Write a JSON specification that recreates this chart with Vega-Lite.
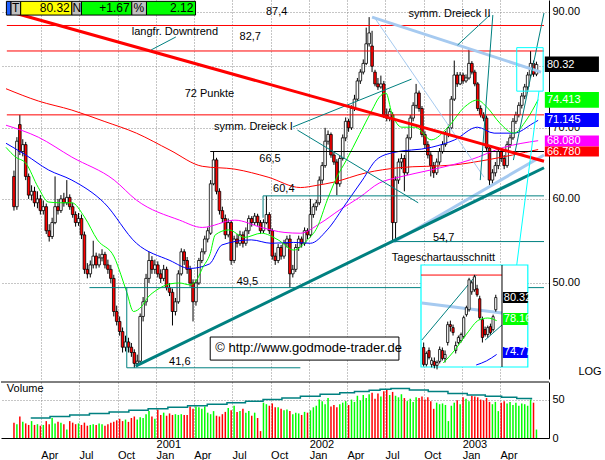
{
"$schema":"https://vega.github.io/schema/vega-lite/v6.json",
"padding":0,
"spacing":2,
"background":"white",
"config":{"view":{"stroke":null},"font":"Liberation Sans","text":{"font":"Liberation Sans","fontSize":11},"axis":{"labelFont":"Liberation Sans","labelFontSize":11,"labelColor":"#000000"}},
"datasets":{
"w":[
{"d":"2000-01-28","o":63,"h":63.8,"l":58.5,"c":59,"v":20},
{"d":"2000-02-04","o":59,"h":68.6,"l":58.6,"c":68,"v":18},
{"d":"2000-02-11","o":70.5,"h":72,"l":66,"c":66.5,"v":28},
{"d":"2000-02-18","o":66.5,"h":68.3,"l":65.8,"c":67.5,"v":21},
{"d":"2000-02-25","o":67.5,"h":67.9,"l":62.5,"c":63,"v":19},
{"d":"2000-03-03","o":63,"h":63.4,"l":60,"c":60.5,"v":17},
{"d":"2000-03-10","o":60.5,"h":61.8,"l":59.8,"c":61,"v":22},
{"d":"2000-03-17","o":61,"h":61.6,"l":59,"c":59.5,"v":17},
{"d":"2000-03-24","o":59.5,"h":61,"l":58.8,"c":60,"v":18},
{"d":"2000-03-31","o":60,"h":60.5,"l":58,"c":58.5,"v":16},
{"d":"2000-04-07","o":58.5,"h":59.8,"l":58,"c":59,"v":17},
{"d":"2000-04-14","o":59,"h":59.4,"l":55.6,"c":56,"v":22},
{"d":"2000-04-21","o":56,"h":56.8,"l":54.7,"c":55.3,"v":18},
{"d":"2000-04-28","o":55.3,"h":57.6,"l":55,"c":57,"v":26},
{"d":"2000-05-05","o":57,"h":63,"l":56.8,"c":59,"v":19},
{"d":"2000-05-12","o":59,"h":60,"l":58,"c":58.5,"v":21},
{"d":"2000-05-19","o":58.5,"h":60.5,"l":58.2,"c":60,"v":20},
{"d":"2000-05-26","o":60,"h":60.8,"l":59,"c":59.5,"v":18},
{"d":"2000-06-02","o":59.5,"h":62.5,"l":59.2,"c":60.2,"v":11},
{"d":"2000-06-09","o":60.2,"h":60.6,"l":58.6,"c":59,"v":22},
{"d":"2000-06-16","o":59,"h":59.5,"l":57.6,"c":58,"v":20},
{"d":"2000-06-23","o":58,"h":58.4,"l":56.5,"c":57,"v":18},
{"d":"2000-06-30","o":57,"h":58.2,"l":56.6,"c":57.5,"v":19},
{"d":"2000-07-07","o":57.5,"h":58,"l":55,"c":55.5,"v":17},
{"d":"2000-07-14","o":55.5,"h":55.9,"l":51,"c":51.5,"v":20},
{"d":"2000-07-21","o":51.5,"h":52.2,"l":50.5,"c":51,"v":16},
{"d":"2000-07-28","o":51,"h":52.5,"l":50.6,"c":52,"v":17},
{"d":"2000-08-04","o":52,"h":54.8,"l":51.6,"c":53,"v":18},
{"d":"2000-08-11","o":53,"h":53.4,"l":51.6,"c":52,"v":17},
{"d":"2000-08-18","o":52,"h":53.3,"l":51.7,"c":52.8,"v":19},
{"d":"2000-08-25","o":52.8,"h":53.8,"l":52.4,"c":53.2,"v":18},
{"d":"2000-09-01","o":53.2,"h":53.5,"l":51.6,"c":52,"v":16},
{"d":"2000-09-08","o":52,"h":52.6,"l":51,"c":51.5,"v":18},
{"d":"2000-09-15","o":51.5,"h":52,"l":50,"c":50.5,"v":20},
{"d":"2000-09-22","o":50.5,"h":50.9,"l":46.5,"c":47,"v":21},
{"d":"2000-09-29","o":47,"h":47.6,"l":45.6,"c":46,"v":23},
{"d":"2000-10-06","o":46,"h":46.5,"l":44.6,"c":45,"v":25},
{"d":"2000-10-13","o":45,"h":45.4,"l":43,"c":43.5,"v":22},
{"d":"2000-10-20","o":43.5,"h":44.6,"l":43.1,"c":44,"v":24},
{"d":"2000-10-27","o":44,"h":44.4,"l":43,"c":43.5,"v":21},
{"d":"2000-11-03","o":43.5,"h":43.9,"l":42.6,"c":43,"v":26},
{"d":"2000-11-10","o":43,"h":43.3,"l":41.6,"c":42,"v":28},
{"d":"2000-11-17","o":42,"h":42.8,"l":41.7,"c":42.2,"v":24},
{"d":"2000-11-24","o":42.2,"h":46.8,"l":42,"c":46.5,"v":27},
{"d":"2000-12-01","o":46.5,"h":48.5,"l":46,"c":48,"v":26},
{"d":"2000-12-08","o":48,"h":51,"l":47.6,"c":50.5,"v":31},
{"d":"2000-12-15","o":50.5,"h":53.5,"l":50,"c":52.5,"v":35},
{"d":"2000-12-22","o":52.5,"h":53,"l":51,"c":51.5,"v":28},
{"d":"2000-12-29","o":51.5,"h":52.6,"l":51,"c":52,"v":25},
{"d":"2001-01-05","o":52,"h":52.4,"l":50.6,"c":51,"v":37},
{"d":"2001-01-12","o":51,"h":51.5,"l":50,"c":50.5,"v":30},
{"d":"2001-01-19","o":50.5,"h":52,"l":50.2,"c":51.5,"v":33},
{"d":"2001-01-26","o":51.5,"h":51.8,"l":49.2,"c":49.5,"v":29},
{"d":"2001-02-02","o":49.5,"h":50,"l":48.6,"c":49,"v":32},
{"d":"2001-02-09","o":49,"h":49.4,"l":45.6,"c":47,"v":30},
{"d":"2001-02-16","o":47,"h":48.4,"l":46.6,"c":48,"v":31},
{"d":"2001-02-23","o":48,"h":51.4,"l":47.8,"c":51,"v":30},
{"d":"2001-03-02","o":51,"h":53.9,"l":50.8,"c":53.5,"v":31},
{"d":"2001-03-09","o":53.5,"h":53.8,"l":52,"c":52.5,"v":30},
{"d":"2001-03-16","o":52.5,"h":52.9,"l":51,"c":51.5,"v":30},
{"d":"2001-03-23","o":51.5,"h":51.9,"l":49.6,"c":50,"v":41},
{"d":"2001-03-30","o":50,"h":50.4,"l":46,"c":48,"v":38},
{"d":"2001-04-06","o":48,"h":50.4,"l":47.6,"c":50,"v":41},
{"d":"2001-04-13","o":50,"h":52.8,"l":49.8,"c":52.5,"v":40},
{"d":"2001-04-20","o":52.5,"h":53.9,"l":52.2,"c":53.5,"v":38},
{"d":"2001-04-27","o":53.5,"h":55.4,"l":53.2,"c":55,"v":41},
{"d":"2001-05-04","o":55,"h":56.4,"l":54.6,"c":56,"v":33},
{"d":"2001-05-11","o":55.7,"h":62.5,"l":55.5,"c":62,"v":31},
{"d":"2001-05-18","o":62,"h":66.5,"l":61.8,"c":65.3,"v":35},
{"d":"2001-05-25","o":65.3,"h":65.6,"l":60.6,"c":61,"v":29},
{"d":"2001-06-01","o":61,"h":61.4,"l":58,"c":58.5,"v":28},
{"d":"2001-06-08","o":58.5,"h":59,"l":57,"c":57.5,"v":31},
{"d":"2001-06-15","o":57.5,"h":58,"l":55,"c":55.5,"v":34},
{"d":"2001-06-22","o":55.5,"h":57.5,"l":55.2,"c":57,"v":39},
{"d":"2001-06-29","o":57,"h":57.3,"l":52,"c":52.5,"v":36},
{"d":"2001-07-06","o":52.5,"h":55.4,"l":52.2,"c":55,"v":42},
{"d":"2001-07-13","o":55,"h":55.6,"l":54,"c":54.5,"v":34},
{"d":"2001-07-20","o":54.5,"h":56,"l":54.2,"c":55.5,"v":35},
{"d":"2001-07-27","o":55.5,"h":55.9,"l":54,"c":54.5,"v":38},
{"d":"2001-08-03","o":54.5,"h":56.4,"l":54.2,"c":56,"v":33},
{"d":"2001-08-10","o":56,"h":57.9,"l":55.6,"c":57.5,"v":35},
{"d":"2001-08-17","o":57.5,"h":57.8,"l":56.5,"c":57,"v":29},
{"d":"2001-08-24","o":57,"h":58.2,"l":56.7,"c":57.8,"v":33},
{"d":"2001-08-31","o":57.8,"h":58.1,"l":56.6,"c":57,"v":26},
{"d":"2001-09-07","o":57,"h":57.3,"l":55.6,"c":56,"v":9},
{"d":"2001-09-14","o":56,"h":57.4,"l":55.7,"c":57,"v":46},
{"d":"2001-09-21","o":57,"h":60.4,"l":56.8,"c":58,"v":44},
{"d":"2001-09-28","o":58,"h":58.3,"l":55.6,"c":56,"v":42},
{"d":"2001-10-05","o":56,"h":56.3,"l":52.6,"c":53,"v":45},
{"d":"2001-10-12","o":53,"h":53.4,"l":52,"c":52.5,"v":40},
{"d":"2001-10-19","o":52.5,"h":54.4,"l":52.2,"c":54,"v":40},
{"d":"2001-10-26","o":54,"h":54.3,"l":52.6,"c":53,"v":38},
{"d":"2001-11-02","o":53,"h":54.9,"l":52.7,"c":54.5,"v":36},
{"d":"2001-11-09","o":54.5,"h":55.4,"l":54,"c":55,"v":37},
{"d":"2001-11-16","o":55,"h":55.5,"l":49.5,"c":51,"v":35},
{"d":"2001-11-23","o":51,"h":52,"l":50.6,"c":51.5,"v":31},
{"d":"2001-11-30","o":51.5,"h":54.4,"l":51.2,"c":54,"v":33},
{"d":"2001-12-07","o":54,"h":55.4,"l":53.6,"c":55,"v":32},
{"d":"2001-12-14","o":55,"h":55.3,"l":54,"c":54.5,"v":30},
{"d":"2001-12-21","o":54.5,"h":56.4,"l":54.2,"c":56,"v":34},
{"d":"2001-12-28","o":56,"h":56.3,"l":55,"c":55.5,"v":33},
{"d":"2002-01-04","o":55.5,"h":60,"l":55.2,"c":58,"v":36},
{"d":"2002-01-11","o":58,"h":59.4,"l":57.6,"c":59,"v":40},
{"d":"2002-01-18","o":59,"h":59.9,"l":58.5,"c":59.5,"v":42},
{"d":"2002-01-25","o":59.5,"h":63,"l":59.2,"c":62.5,"v":50},
{"d":"2002-02-01","o":62.5,"h":65,"l":62,"c":64.5,"v":48},
{"d":"2002-02-08","o":64.5,"h":70,"l":64.2,"c":68,"v":44},
{"d":"2002-02-15","o":68,"h":69.6,"l":67.5,"c":69,"v":52},
{"d":"2002-02-22","o":69,"h":69.3,"l":65.6,"c":66,"v":41},
{"d":"2002-03-01","o":66,"h":66.4,"l":64.6,"c":65,"v":43},
{"d":"2002-03-08","o":65,"h":65.4,"l":60.5,"c":62,"v":40},
{"d":"2002-03-15","o":62,"h":65.9,"l":61.6,"c":65.5,"v":44},
{"d":"2002-03-22","o":65.5,"h":69,"l":65.2,"c":68.5,"v":46},
{"d":"2002-03-29","o":68.5,"h":71.6,"l":68,"c":71,"v":48},
{"d":"2002-04-05","o":71,"h":71.4,"l":69.4,"c":70,"v":43},
{"d":"2002-04-12","o":70,"h":73.5,"l":69.7,"c":73,"v":50},
{"d":"2002-04-19","o":73,"h":75.2,"l":72.6,"c":74.5,"v":47},
{"d":"2002-04-26","o":74.5,"h":78,"l":74.2,"c":77.5,"v":55},
{"d":"2002-05-03","o":77.5,"h":79.5,"l":77,"c":79,"v":49},
{"d":"2002-05-10","o":79,"h":81.2,"l":78.6,"c":80.5,"v":56},
{"d":"2002-05-17","o":80.5,"h":87,"l":80.2,"c":84,"v":52},
{"d":"2002-05-24","o":84,"h":89,"l":83.5,"c":86,"v":57},
{"d":"2002-05-31","o":83.6,"h":86.4,"l":79,"c":80,"v":59},
{"d":"2002-06-07","o":79,"h":79.4,"l":76.6,"c":77,"v":51},
{"d":"2002-06-14","o":77,"h":78,"l":76,"c":76.5,"v":58},
{"d":"2002-06-21","o":76.5,"h":78.4,"l":76.2,"c":77,"v":54},
{"d":"2002-06-28","o":77,"h":77.5,"l":71.5,"c":72,"v":61},
{"d":"2002-07-05","o":72,"h":73,"l":71,"c":71.5,"v":63},
{"d":"2002-07-12","o":71.5,"h":73,"l":71,"c":72.5,"v":56},
{"d":"2002-07-19","o":72,"h":72.4,"l":54.7,"c":57,"v":60},
{"d":"2002-07-26","o":57,"h":63,"l":54.8,"c":62.5,"v":55},
{"d":"2002-08-02","o":62.5,"h":65.5,"l":62,"c":65,"v":53},
{"d":"2002-08-09","o":65,"h":66.2,"l":64,"c":65.5,"v":57},
{"d":"2002-08-16","o":65.5,"h":66,"l":61,"c":63.5,"v":52},
{"d":"2002-08-23","o":63.5,"h":69,"l":63.2,"c":68.5,"v":48},
{"d":"2002-08-30","o":68.5,"h":72,"l":68.2,"c":71.5,"v":51},
{"d":"2002-09-06","o":71.5,"h":74,"l":71,"c":73.5,"v":47},
{"d":"2002-09-13","o":73.5,"h":77,"l":73,"c":75.5,"v":53},
{"d":"2002-09-20","o":75.5,"h":75.9,"l":72.5,"c":73,"v":52},
{"d":"2002-09-27","o":73,"h":73.4,"l":68.6,"c":69,"v":54},
{"d":"2002-10-04","o":69,"h":69.5,"l":67,"c":67.5,"v":50},
{"d":"2002-10-11","o":67.5,"h":68,"l":65.5,"c":66,"v":53},
{"d":"2002-10-18","o":66,"h":66.4,"l":63,"c":64.5,"v":48},
{"d":"2002-10-25","o":64.5,"h":65,"l":62.8,"c":63.5,"v":38},
{"d":"2002-11-01","o":63.5,"h":65.5,"l":63.2,"c":65,"v":46},
{"d":"2002-11-08","o":65,"h":67,"l":64.6,"c":66.5,"v":44},
{"d":"2002-11-15","o":66.5,"h":68,"l":66.2,"c":67.5,"v":45},
{"d":"2002-11-22","o":67.5,"h":69.5,"l":67.2,"c":69,"v":43},
{"d":"2002-11-29","o":69,"h":70.5,"l":68.6,"c":70,"v":22},
{"d":"2002-12-06","o":70,"h":75,"l":69.8,"c":74.5,"v":42},
{"d":"2002-12-13","o":74.5,"h":81,"l":74.2,"c":78.5,"v":46},
{"d":"2002-12-20","o":78.5,"h":79,"l":76.5,"c":77,"v":49},
{"d":"2002-12-27","o":77,"h":79,"l":76.8,"c":78.5,"v":44},
{"d":"2003-01-03","o":78.5,"h":78.9,"l":77,"c":77.5,"v":53},
{"d":"2003-01-10","o":77.5,"h":78.6,"l":77.2,"c":78,"v":51},
{"d":"2003-01-17","o":78,"h":83,"l":77.7,"c":80.5,"v":48},
{"d":"2003-01-24","o":80.5,"h":80.9,"l":78.6,"c":79,"v":55},
{"d":"2003-01-31","o":79,"h":79.4,"l":76.6,"c":77,"v":54},
{"d":"2003-02-07","o":77,"h":77.3,"l":72.6,"c":73,"v":53},
{"d":"2003-02-14","o":73,"h":73.5,"l":71.6,"c":72,"v":50},
{"d":"2003-02-21","o":72,"h":72.4,"l":71,"c":71.5,"v":49},
{"d":"2003-02-28","o":71.5,"h":71.9,"l":66.6,"c":67,"v":52},
{"d":"2003-03-07","o":67,"h":67.4,"l":61.5,"c":62.5,"v":47},
{"d":"2003-03-14","o":62.5,"h":64,"l":62,"c":63.5,"v":44},
{"d":"2003-03-21","o":63.5,"h":65,"l":63,"c":64.5,"v":47},
{"d":"2003-03-28","o":64.5,"h":67,"l":64,"c":66.5,"v":35},
{"d":"2003-04-04","o":66.5,"h":66.9,"l":65,"c":65.5,"v":46},
{"d":"2003-04-11","o":65.5,"h":66,"l":64,"c":64.5,"v":48},
{"d":"2003-04-18","o":64.5,"h":68,"l":64.2,"c":67.5,"v":45},
{"d":"2003-04-25","o":67.5,"h":69,"l":67,"c":68.5,"v":47},
{"d":"2003-05-02","o":68.5,"h":71.5,"l":68.2,"c":71,"v":43},
{"d":"2003-05-09","o":71,"h":72.5,"l":70.6,"c":72,"v":46},
{"d":"2003-05-16","o":72,"h":74,"l":71.6,"c":73.5,"v":42},
{"d":"2003-05-23","o":73.5,"h":75.5,"l":73,"c":75,"v":45},
{"d":"2003-05-30","o":75,"h":77,"l":74.5,"c":76.5,"v":44},
{"d":"2003-06-06","o":76.5,"h":79,"l":76,"c":78.5,"v":42},
{"d":"2003-06-13","o":78.5,"h":82.7,"l":78,"c":80.5,"v":50},
{"d":"2003-06-20","o":80.5,"h":81,"l":78.2,"c":78.65,"v":46},
{"d":"2003-06-27","o":78.65,"h":80.8,"l":78.3,"c":80.32,"v":11}
],
"ma":[
{"s":"r","d":"2000-01-09","v":76.2},{"s":"r","d":"2000-03-26","v":74.2},{"s":"r","d":"2000-06-14","v":72.75},{"s":"r","d":"2000-08-30","v":71.0},{"s":"r","d":"2000-11-15","v":69.2},{"s":"r","d":"2001-02-03","v":66.7},{"s":"r","d":"2001-04-21","v":64.4},{"s":"r","d":"2001-07-08","v":64.0},{"s":"r","d":"2001-09-25","v":62.9},{"s":"r","d":"2001-12-11","v":61.5},{"s":"r","d":"2002-01-20","v":61.8},{"s":"r","d":"2002-02-27","v":62.2},{"s":"r","d":"2002-05-17","v":63.5},{"s":"r","d":"2002-08-03","v":64.2},{"s":"r","d":"2002-12-14","v":64.6},{"s":"r","d":"2003-03-01","v":65.3},{"s":"r","d":"2003-07-01","v":66.78},
{"s":"m","d":"2000-01-09","v":70.4},{"s":"m","d":"2000-03-26","v":68.6},{"s":"m","d":"2000-06-14","v":65.7},{"s":"m","d":"2000-09-23","v":62.5},{"s":"m","d":"2000-11-15","v":59.85},{"s":"m","d":"2001-02-26","v":57.3},{"s":"m","d":"2001-04-21","v":56.4},{"s":"m","d":"2001-07-08","v":57.3},{"s":"m","d":"2001-09-09","v":56.4},{"s":"m","d":"2001-11-02","v":55.8},{"s":"m","d":"2001-12-11","v":55.7},{"s":"m","d":"2002-01-27","v":56.9},{"s":"m","d":"2002-03-15","v":58.6},{"s":"m","d":"2002-05-01","v":60.2},{"s":"m","d":"2002-06-17","v":62.1},{"s":"m","d":"2002-08-03","v":62.9},{"s":"m","d":"2002-10-19","v":63.9},{"s":"m","d":"2003-01-20","v":65.3},{"s":"m","d":"2003-04-10","v":67.1},{"s":"m","d":"2003-07-01","v":68.08},
{"s":"b","d":"2000-01-09","v":67.7},{"s":"b","d":"2000-02-25","v":66.0},{"s":"b","d":"2000-04-19","v":63.9},{"s":"b","d":"2000-06-14","v":62.5},{"s":"b","d":"2000-08-30","v":59.5},{"s":"b","d":"2000-11-15","v":54.5},{"s":"b","d":"2001-02-03","v":52.5},{"s":"b","d":"2001-03-22","v":51.6},{"s":"b","d":"2001-05-08","v":52.1},{"s":"b","d":"2001-06-07","v":54.3},{"s":"b","d":"2001-08-16","v":54.9},{"s":"b","d":"2001-10-02","v":54.5},{"s":"b","d":"2001-11-25","v":54.6},{"s":"b","d":"2002-01-04","v":54.5},{"s":"b","d":"2002-02-13","v":56.1},{"s":"b","d":"2002-03-31","v":59.5},{"s":"b","d":"2002-05-08","v":62.5},{"s":"b","d":"2002-06-10","v":65.3},{"s":"b","d":"2002-07-17","v":66.3},{"s":"b","d":"2002-10-19","v":67.1},{"s":"b","d":"2002-12-14","v":68.2},{"s":"b","d":"2003-02-06","v":70.1},{"s":"b","d":"2003-03-18","v":69.2},{"s":"b","d":"2003-05-04","v":69.2},{"s":"b","d":"2003-06-19","v":70.7},{"s":"b","d":"2003-07-01","v":71.15},
{"s":"g","d":"2000-01-09","v":67.1},{"s":"g","d":"2000-02-01","v":65.7},{"s":"g","d":"2000-02-25","v":64.85},{"s":"g","d":"2000-03-26","v":61.5},{"s":"g","d":"2000-04-19","v":59.6},{"s":"g","d":"2000-05-17","v":59.5},{"s":"g","d":"2000-06-14","v":59.5},{"s":"g","d":"2000-07-14","v":57.7},{"s":"g","d":"2000-08-14","v":54.9},{"s":"g","d":"2000-09-23","v":52.9},{"s":"g","d":"2000-10-09","v":50.9},{"s":"g","d":"2000-10-23","v":49.0},{"s":"g","d":"2000-11-08","v":47.0},{"s":"g","d":"2000-11-27","v":47.5},{"s":"g","d":"2000-12-13","v":48.5},{"s":"g","d":"2001-01-01","v":49.2},{"s":"g","d":"2001-02-03","v":49.9},{"s":"g","d":"2001-02-26","v":50.0},{"s":"g","d":"2001-03-22","v":49.8},{"s":"g","d":"2001-04-10","v":50.5},{"s":"g","d":"2001-04-21","v":51.6},{"s":"g","d":"2001-05-10","v":53.3},{"s":"g","d":"2001-05-22","v":55.5},{"s":"g","d":"2001-06-23","v":56.1},{"s":"g","d":"2001-07-31","v":55.2},{"s":"g","d":"2001-09-09","v":55.7},{"s":"g","d":"2001-10-19","v":54.9},{"s":"g","d":"2001-11-25","v":53.7},{"s":"g","d":"2001-12-28","v":54.9},{"s":"g","d":"2002-01-20","v":56.4},{"s":"g","d":"2002-02-13","v":59.85},{"s":"g","d":"2002-03-08","v":62.9},{"s":"g","d":"2002-03-31","v":65.3},{"s":"g","d":"2002-05-01","v":69.0},{"s":"g","d":"2002-05-31","v":72.75},{"s":"g","d":"2002-06-17","v":74.8},{"s":"g","d":"2002-07-03","v":75.5},{"s":"g","d":"2002-07-17","v":72.3},{"s":"g","d":"2002-08-10","v":70.1},{"s":"g","d":"2002-09-11","v":70.1},{"s":"g","d":"2002-10-19","v":68.2},{"s":"g","d":"2002-11-28","v":70.1},{"s":"g","d":"2003-01-06","v":73.2},{"s":"g","d":"2003-02-06","v":74.35},{"s":"g","d":"2003-03-01","v":73.2},{"s":"g","d":"2003-04-01","v":70.7},{"s":"g","d":"2003-05-04","v":69.2},{"s":"g","d":"2003-06-03","v":71.2},{"s":"g","d":"2003-07-01","v":74.41}
],
"vma":[
{"d":"2000-03-08","v":26},{"d":"2000-04-23","v":28},{"d":"2000-06-09","v":30},{"d":"2000-07-26","v":32},{"d":"2000-09-11","v":34},{"d":"2000-10-28","v":36},{"d":"2000-12-13","v":38},{"d":"2001-01-29","v":40},{"d":"2001-03-17","v":42},{"d":"2001-05-03","v":44},{"d":"2001-06-19","v":46},{"d":"2001-08-02","v":48},{"d":"2001-09-13","v":50},{"d":"2001-10-28","v":52},{"d":"2001-12-11","v":54.5},{"d":"2002-01-27","v":57},{"d":"2002-03-15","v":59},{"d":"2002-04-19","v":60.5},{"d":"2002-05-24","v":62},{"d":"2002-06-19","v":63.5},{"d":"2002-07-15","v":64.5},{"d":"2002-08-28","v":62.5},{"d":"2002-10-12","v":60.5},{"d":"2002-11-28","v":58},{"d":"2003-01-13","v":56},{"d":"2003-02-25","v":54.5},{"d":"2003-04-05","v":53},{"d":"2003-05-11","v":51.5},{"d":"2003-06-15","v":50}
],
"seg":[
{"k":"res","d1":"2000-01-11","d2":"2003-07-15","p1":87.4,"p2":87.4},
{"k":"res","d1":"2000-01-11","d2":"2003-07-15","p1":82.7,"p2":82.7},
{"k":"res","d1":"2000-01-11","d2":"2003-07-15","p1":72,"p2":72},
{"k":"blk","d1":"2001-05-10","d2":"2003-07-15","p1":66.5,"p2":66.5},
{"k":"teal","d1":"2000-07-26","d2":"2003-07-15","p1":49.5,"p2":49.5},
{"k":"teal","d1":"2000-10-23","d2":"2001-12-11","p1":41.6,"p2":41.6},
{"k":"teal","d1":"2000-10-23","d2":"2000-10-23","p1":41.6,"p2":49.5},
{"k":"teal","d1":"2001-09-13","d2":"2003-07-15","p1":60.4,"p2":60.4},
{"k":"teal","d1":"2001-09-13","d2":"2001-09-13","p1":57.6,"p2":60.4},
{"k":"teal","d1":"2002-07-17","d2":"2003-07-15","p1":54.7,"p2":54.7},
{"k":"teal","d1":"2001-11-23","d2":"2002-09-02","p1":70.13,"p2":77.8},
{"k":"teal","d1":"2001-12-04","d2":"2002-09-18","p1":69.66,"p2":59.5},
{"k":"teal","d1":"2001-02-17","d2":"2000-12-20","p1":85.25,"p2":82.88},
{"k":"teal","d1":"2002-12-21","d2":"2003-03-08","p1":83.78,"p2":89.41},
{"k":"teal","d1":"2003-02-13","d2":"2003-03-15","p1":62.5,"p2":89.41},
{"k":"teal","d1":"2003-05-03","d2":"2003-07-15","p1":65.27,"p2":89.8},
{"k":"down","d1":"2000-01-21","d2":"2003-07-15","p1":90.0,"p2":65.1},
{"k":"up","d1":"2000-11-13","d2":"2003-07-15","p1":41.75,"p2":64.2},
{"k":"lbt","d1":"2002-05-31","d2":"2003-07-08","p1":89.0,"p2":79.0},
{"k":"lbt","d1":"2002-07-22","d2":"2003-07-15","p1":54.65,"p2":66.0},
{"k":"lb","d1":"2002-06-05","d2":"2003-02-22","p1":89.0,"p2":62.9},
{"k":"cy","d1":"2003-07-03","d2":"2003-05-11","p1":75.8,"p2":52.0}
],
"lab":[
{"t":"87,4","d":"2001-09-20","p":90.0},
{"t":"82,7","d":"2001-07-19","p":85.25},
{"t":"langfr. Downtrend","d":"2000-11-04","p":86.2},
{"t":"72 Punkte","d":"2001-03-10","p":75.3},
{"t":"symm. Dreieck I","d":"2001-05-19","p":70.1},
{"t":"66,5","d":"2001-09-04","p":65.4},
{"t":"60,4","d":"2001-10-07","p":61.3},
{"t":"49,5","d":"2001-07-12","p":50.1},
{"t":"41,6","d":"2001-02-01","p":42.1},
{"t":"54,7","d":"2002-10-23","p":55.1},
{"t":"symm. Dreieck II","d":"2002-08-26","p":89.6},
{"t":"Tageschartausschnitt","d":"2002-07-17","p":52.8},
{"t":"LOG","d":"2003-10-05","p":41.2}
],
"rlab":[
{"s":"close","t":"80.32","top":81.7,"bot":79.0,"yc":80.3},
{"s":"g","t":"74.413","top":75.66,"bot":73.13,"yc":74.4},
{"s":"b","t":"71.145","top":72.29,"bot":70.13,"yc":71.2},
{"s":"m","t":"68.080","top":68.86,"bot":67.24,"yc":68.05},
{"s":"r","t":"66.780","top":67.24,"bot":65.8,"yc":66.45}
],
"hdr":[
{"s":"blue","d1":"2000-01-10","d2":"2000-01-21"},
{"s":"gray","d1":"2000-01-21","d2":"2000-02-13"},
{"s":"yellow","d1":"2000-02-13","d2":"2000-06-14"},
{"s":"gray","d1":"2000-06-14","d2":"2000-07-07"},
{"s":"green","d1":"2000-07-07","d2":"2000-11-04"},
{"s":"gray","d1":"2000-11-04","d2":"2000-12-09"},
{"s":"green","d1":"2000-12-09","d2":"2001-04-05"}
],
"ins":[
{"j":0,"o":75.3,"h":75.8,"l":73.4,"c":73.6},
{"j":1,"o":73.6,"h":74.9,"l":73.4,"c":74.7},
{"j":2,"o":75.0,"h":75.3,"l":74.1,"c":74.3},
{"j":3,"o":73.6,"h":74.3,"l":73.3,"c":74.0},
{"j":4,"o":73.9,"h":74.3,"l":73.2,"c":73.5},
{"j":5,"o":73.5,"h":74.0,"l":73.1,"c":73.8},
{"j":6,"o":73.9,"h":75.4,"l":73.7,"c":75.1},
{"j":7,"o":75.0,"h":75.3,"l":74.0,"c":74.2},
{"j":8,"o":74.2,"h":75.0,"l":73.8,"c":74.6},
{"j":9,"o":75.8,"h":77.9,"l":75.5,"c":77.6},
{"j":10,"o":77.6,"h":78.0,"l":76.9,"c":77.4},
{"j":11,"o":77.3,"h":77.6,"l":76.5,"c":76.8},
{"j":12,"o":75.0,"h":75.9,"l":74.7,"c":75.5},
{"j":13,"o":75.8,"h":76.5,"l":75.6,"c":76.3},
{"j":14,"o":76.0,"h":76.8,"l":75.8,"c":76.6},
{"j":15,"o":76.4,"h":78.5,"l":76.2,"c":78.3},
{"j":16,"o":78.6,"h":79.5,"l":78.4,"c":79.3},
{"j":17,"o":79.1,"h":82.3,"l":78.9,"c":82.1},
{"j":18,"o":80.9,"h":82.0,"l":80.6,"c":81.8},
{"j":19,"o":81.1,"h":82.6,"l":80.9,"c":82.4},
{"j":20,"o":81.2,"h":81.6,"l":80.4,"c":80.6},
{"j":21,"o":80.2,"h":80.5,"l":78.1,"c":78.3},
{"j":22,"o":78.1,"h":78.4,"l":75.8,"c":76.3},
{"j":23,"o":77.1,"h":77.4,"l":76.4,"c":76.6},
{"j":24,"o":76.6,"h":77.5,"l":76.3,"c":77.3},
{"j":25,"o":77.4,"h":77.7,"l":76.6,"c":76.8},
{"j":26,"o":77.1,"h":78.6,"l":76.9,"c":78.4},
{"j":27,"o":79.1,"h":80.6,"l":78.9,"c":80.32}
],
"iseg":[
{"k":"res","j1":-1,"j2":29.33,"p1":82.58,"p2":82.58},
{"k":"lbt","j1":-0.67,"j2":29.33,"p1":79.77,"p2":78.77},
{"k":"teal","j1":-0.67,"j2":19.67,"p1":76.05,"p2":82.56},
{"k":"teal","j1":23,"j2":29.33,"p1":76.05,"p2":77.56},
{"k":"ax","j1":29.33,"j2":29.33,"p1":73.34,"p2":83.59}
],
"ima":[
{"s":"g","j":7.33,"v":73.74},{"s":"g","j":11.67,"v":75.04},{"s":"g","j":16.33,"v":76.75},{"s":"g","j":20.67,"v":78.06},{"s":"g","j":24,"v":78.26},{"s":"g","j":27.33,"v":78.0},
{"s":"b","j":19.67,"v":73.54},{"s":"b","j":23.5,"v":73.95},{"s":"b","j":27.33,"v":74.6}
],
"ilab":[
{"s":"close","t":"80.32","top":80.87,"bot":79.77,"yc":80.32},
{"s":"g","t":"78.16","top":78.76,"bot":77.56,"yc":78.16},
{"s":"b","t":"74.77","top":75.35,"bot":74.24,"yc":74.8}
]
},
"vconcat":[
{
"width":548,"height":379,
"layer":[
{"layer":[
{"data":{"name":"w"},"mark":{"type":"rule","color":"#000000","strokeWidth":1},
 "encoding":{
  "x":{"field":"d","type":"temporal","scale":{"type":"utc","domain":[{"year":2000,"month":1,"date":9,"utc":true},{"year":2003,"month":7,"date":15,"utc":true}]},
   "axis":{"orient":"bottom","values":[{"year":2000,"month":4,"date":1,"utc":true},{"year":2000,"month":7,"date":1,"utc":true},{"year":2000,"month":10,"date":1,"utc":true},{"year":2001,"month":1,"date":1,"utc":true},{"year":2001,"month":4,"date":1,"utc":true},{"year":2001,"month":7,"date":1,"utc":true},{"year":2001,"month":10,"date":1,"utc":true},{"year":2002,"month":1,"date":1,"utc":true},{"year":2002,"month":4,"date":1,"utc":true},{"year":2002,"month":7,"date":1,"utc":true},{"year":2002,"month":10,"date":1,"utc":true},{"year":2003,"month":1,"date":1,"utc":true},{"year":2003,"month":4,"date":1,"utc":true}],"labels":false,"ticks":false,"domain":false,"grid":true,"gridColor":"#8c8c8c","gridDash":[1,2],"title":null}},
  "y":{"field":"l","type":"quantitative","scale":{"type":"log","domain":[40.6,92.37]},
   "axis":{"orient":"right","values":[50,60,70,80,90],"labelExpr":"datum.value == 80 ? '' : format(datum.value, '.2f')","ticks":false,"labelPadding":3,"domain":true,"domainColor":"#000000","grid":true,"gridColor":"#8c8c8c","gridDash":[1,2],"title":null}},
  "y2":{"field":"h"}}},
{"data":{"name":"w"},"mark":{"type":"bar","width":2.6,"stroke":"#000000","strokeWidth":0.8},
 "encoding":{
  "x":{"field":"d","type":"temporal","scale":{"type":"utc","domain":[{"year":2000,"month":1,"date":9,"utc":true},{"year":2003,"month":7,"date":15,"utc":true}]}},
  "y":{"field":"o","type":"quantitative","scale":{"type":"log","domain":[40.6,92.37]}},
  "y2":{"field":"c"},
  "fill":{"condition":{"test":"datum.c < datum.o","value":"#ff0000"},"value":"#ffffff"}}},
{"data":{"name":"ma"},"mark":{"type":"line","strokeWidth":1,"interpolate":"monotone"},
 "encoding":{
  "x":{"field":"d","type":"temporal","scale":{"type":"utc","domain":[{"year":2000,"month":1,"date":9,"utc":true},{"year":2003,"month":7,"date":15,"utc":true}]}},
  "y":{"field":"v","type":"quantitative","scale":{"type":"log","domain":[40.6,92.37]}},
  "color":{"field":"s","type":"nominal","scale":{"domain":["r","m","b","g"],"range":["#ff0000","#ff00ff","#0000ff","#00ff00"]},"legend":null}}},
{"data":{"name":"seg"},"transform":[{"filter":"datum.k == 'res'"}],"mark":{"type":"rule","color":"#ff0000","strokeWidth":1},
 "encoding":{"x":{"field":"d1","type":"temporal","scale":{"type":"utc","domain":[{"year":2000,"month":1,"date":9,"utc":true},{"year":2003,"month":7,"date":15,"utc":true}]}},"x2":{"field":"d2"},"y":{"field":"p1","type":"quantitative","scale":{"type":"log","domain":[40.6,92.37]}},"y2":{"field":"p2"}}},
{"data":{"name":"seg"},"transform":[{"filter":"datum.k == 'blk'"}],"mark":{"type":"rule","color":"#000000","strokeWidth":1},
 "encoding":{"x":{"field":"d1","type":"temporal","scale":{"type":"utc","domain":[{"year":2000,"month":1,"date":9,"utc":true},{"year":2003,"month":7,"date":15,"utc":true}]}},"x2":{"field":"d2"},"y":{"field":"p1","type":"quantitative","scale":{"type":"log","domain":[40.6,92.37]}},"y2":{"field":"p2"}}},
{"data":{"name":"seg"},"transform":[{"filter":"datum.k == 'lb'"}],"mark":{"type":"rule","color":"#a6caf0","strokeWidth":1},
 "encoding":{"x":{"field":"d1","type":"temporal","scale":{"type":"utc","domain":[{"year":2000,"month":1,"date":9,"utc":true},{"year":2003,"month":7,"date":15,"utc":true}]}},"x2":{"field":"d2"},"y":{"field":"p1","type":"quantitative","scale":{"type":"log","domain":[40.6,92.37]}},"y2":{"field":"p2"}}},
{"data":{"name":"seg"},"transform":[{"filter":"datum.k == 'lbt'"}],"mark":{"type":"rule","color":"#a6caf0","strokeWidth":3},
 "encoding":{"x":{"field":"d1","type":"temporal","scale":{"type":"utc","domain":[{"year":2000,"month":1,"date":9,"utc":true},{"year":2003,"month":7,"date":15,"utc":true}]}},"x2":{"field":"d2"},"y":{"field":"p1","type":"quantitative","scale":{"type":"log","domain":[40.6,92.37]}},"y2":{"field":"p2"}}},
{"data":{"name":"seg"},"transform":[{"filter":"datum.k == 'teal'"}],"mark":{"type":"rule","color":"#008080","strokeWidth":1},
 "encoding":{"x":{"field":"d1","type":"temporal","scale":{"type":"utc","domain":[{"year":2000,"month":1,"date":9,"utc":true},{"year":2003,"month":7,"date":15,"utc":true}]}},"x2":{"field":"d2"},"y":{"field":"p1","type":"quantitative","scale":{"type":"log","domain":[40.6,92.37]}},"y2":{"field":"p2"}}},
{"data":{"name":"seg"},"transform":[{"filter":"datum.k == 'down'"}],"mark":{"type":"rule","color":"#ff0000","strokeWidth":3},
 "encoding":{"x":{"field":"d1","type":"temporal","scale":{"type":"utc","domain":[{"year":2000,"month":1,"date":9,"utc":true},{"year":2003,"month":7,"date":15,"utc":true}]}},"x2":{"field":"d2"},"y":{"field":"p1","type":"quantitative","scale":{"type":"log","domain":[40.6,92.37]}},"y2":{"field":"p2"}}},
{"data":{"name":"seg"},"transform":[{"filter":"datum.k == 'up'"}],"mark":{"type":"rule","color":"#008080","strokeWidth":3},
 "encoding":{"x":{"field":"d1","type":"temporal","scale":{"type":"utc","domain":[{"year":2000,"month":1,"date":9,"utc":true},{"year":2003,"month":7,"date":15,"utc":true}]}},"x2":{"field":"d2"},"y":{"field":"p1","type":"quantitative","scale":{"type":"log","domain":[40.6,92.37]}},"y2":{"field":"p2"}}},
{"data":{"name":"seg"},"transform":[{"filter":"datum.k == 'cy'"}],"mark":{"type":"rule","color":"#00ffff","strokeWidth":1},
 "encoding":{"x":{"field":"d1","type":"temporal","scale":{"type":"utc","domain":[{"year":2000,"month":1,"date":9,"utc":true},{"year":2003,"month":7,"date":15,"utc":true}]}},"x2":{"field":"d2"},"y":{"field":"p1","type":"quantitative","scale":{"type":"log","domain":[40.6,92.37]}},"y2":{"field":"p2"}}},
{"data":{"values":[{"d1":"2003-05-11","d2":"2003-07-13","p1":83.3,"p2":75.8}]},"mark":{"type":"rect","filled":false,"color":"#00ffff","strokeWidth":1},
 "encoding":{"x":{"field":"d1","type":"temporal","scale":{"type":"utc","domain":[{"year":2000,"month":1,"date":9,"utc":true},{"year":2003,"month":7,"date":15,"utc":true}]}},"x2":{"field":"d2"},"y":{"field":"p1","type":"quantitative","scale":{"type":"log","domain":[40.6,92.37]}},"y2":{"field":"p2"}}},
{"data":{"values":[{"d1":"2001-05-10","d2":"2002-08-03","p1":44.47,"p2":42.3}]},"mark":{"type":"rect","fill":"#ffffff","stroke":"#000000","strokeWidth":1},
 "encoding":{"x":{"field":"d1","type":"temporal","scale":{"type":"utc","domain":[{"year":2000,"month":1,"date":9,"utc":true},{"year":2003,"month":7,"date":15,"utc":true}]}},"x2":{"field":"d2"},"y":{"field":"p1","type":"quantitative","scale":{"type":"log","domain":[40.6,92.37]}},"y2":{"field":"p2"}}},
{"data":{"values":[{"t":"© http://www.godmode-trader.de","d":"2001-05-22","p":43.4}]},"mark":{"type":"text","align":"left","baseline":"middle","fontSize":13,"color":"#000000"},
 "encoding":{"x":{"field":"d","type":"temporal","scale":{"type":"utc","domain":[{"year":2000,"month":1,"date":9,"utc":true},{"year":2003,"month":7,"date":15,"utc":true}]}},"y":{"field":"p","type":"quantitative","scale":{"type":"log","domain":[40.6,92.37]}},"text":{"field":"t"}}},
{"data":{"name":"lab"},"mark":{"type":"text","align":"left","baseline":"middle","fontSize":11,"color":"#000000"},
 "encoding":{"x":{"field":"d","type":"temporal","scale":{"type":"utc","domain":[{"year":2000,"month":1,"date":9,"utc":true},{"year":2003,"month":7,"date":15,"utc":true}]}},"y":{"field":"p","type":"quantitative","scale":{"type":"log","domain":[40.6,92.37]}},"text":{"field":"t"}}},
{"data":{"name":"rlab"},"mark":{"type":"rect"},
 "encoding":{"x":{"datum":{"year":2003,"month":7,"date":17,"utc":true},"type":"temporal","scale":{"type":"utc","domain":[{"year":2000,"month":1,"date":9,"utc":true},{"year":2003,"month":7,"date":15,"utc":true}]}},"x2":{"datum":{"year":2003,"month":11,"date":23,"utc":true}},"y":{"field":"top","type":"quantitative","scale":{"type":"log","domain":[40.6,92.37]}},"y2":{"field":"bot"},
  "fill":{"field":"s","type":"nominal","scale":{"domain":["close","g","b","m","r","blue","gray","yellow","green"],"range":["#000000","#00ff00","#0000ff","#ff00ff","#ff0000","#2060ff","#c0c0c0","#ffff00","#00ff00"]},"legend":null}}},
{"data":{"name":"rlab"},"mark":{"type":"text","align":"left","baseline":"middle","fontSize":11,"color":"#ffffff"},
 "encoding":{"x":{"datum":{"year":2003,"month":7,"date":22,"utc":true},"type":"temporal","scale":{"type":"utc","domain":[{"year":2000,"month":1,"date":9,"utc":true},{"year":2003,"month":7,"date":15,"utc":true}]}},"y":{"field":"yc","type":"quantitative","scale":{"type":"log","domain":[40.6,92.37]}},"text":{"field":"t"}}},
{"data":{"name":"hdr"},"mark":{"type":"rect","stroke":"#000000","strokeWidth":1},
 "encoding":{"x":{"field":"d1","type":"temporal","scale":{"type":"utc","domain":[{"year":2000,"month":1,"date":9,"utc":true},{"year":2003,"month":7,"date":15,"utc":true}]}},"x2":{"field":"d2"},"y":{"datum":92.1,"type":"quantitative","scale":{"type":"log","domain":[40.6,92.37]}},"y2":{"datum":89.4},
  "fill":{"field":"s","type":"nominal","scale":{"domain":["close","g","b","m","r","blue","gray","yellow","green"],"range":["#000000","#00ff00","#0000ff","#ff00ff","#ff0000","#2060ff","#c0c0c0","#ffff00","#00ff00"]},"legend":null}}},
{"data":{"values":[{"t":"T","d":"2000-02-01"},{"t":"N","d":"2000-06-26"},{"t":"%","d":"2000-11-21"}]},"mark":{"type":"text","align":"center","baseline":"middle","fontSize":12,"color":"#000000"},
 "encoding":{"x":{"field":"d","type":"temporal","scale":{"type":"utc","domain":[{"year":2000,"month":1,"date":9,"utc":true},{"year":2003,"month":7,"date":15,"utc":true}]}},"y":{"datum":90.85,"type":"quantitative","scale":{"type":"log","domain":[40.6,92.37]}},"text":{"field":"t"}}},
{"data":{"values":[{"t":"80.32","d":"2000-06-09"},{"t":"+1.67","d":"2000-10-30"},{"t":"2.12","d":"2001-03-31"}]},"mark":{"type":"text","align":"right","baseline":"middle","fontSize":12,"color":"#000000"},
 "encoding":{"x":{"field":"d","type":"temporal","scale":{"type":"utc","domain":[{"year":2000,"month":1,"date":9,"utc":true},{"year":2003,"month":7,"date":15,"utc":true}]}},"y":{"datum":90.85,"type":"quantitative","scale":{"type":"log","domain":[40.6,92.37]}},"text":{"field":"t"}}}
]},
{"layer":[
{"data":{"values":[{"j1":-1,"j2":39,"p1":73.34,"p2":83.59}]},"mark":{"type":"rect","fill":"#ffffff","stroke":"#00ffff","strokeWidth":1.2},
 "encoding":{"x":{"field":"j1","type":"quantitative","scale":{"domain":[-1,29.333],"range":[415,506]},"axis":null},"x2":{"field":"j2"},"y":{"field":"p1","type":"quantitative","scale":{"domain":[73.34,83.59],"range":[367,265]},"axis":null},"y2":{"field":"p2"}}},
{"data":{"name":"iseg"},"transform":[{"filter":"datum.k == 'res'"}],"mark":{"type":"rule","color":"#ff0000","strokeWidth":1},
 "encoding":{"x":{"field":"j1","type":"quantitative","scale":{"domain":[-1,29.333],"range":[415,506]},"axis":null},"x2":{"field":"j2"},"y":{"field":"p1","type":"quantitative","scale":{"domain":[73.34,83.59],"range":[367,265]},"axis":null},"y2":{"field":"p2"}}},
{"data":{"name":"iseg"},"transform":[{"filter":"datum.k == 'lbt'"}],"mark":{"type":"rule","color":"#a6caf0","strokeWidth":3},
 "encoding":{"x":{"field":"j1","type":"quantitative","scale":{"domain":[-1,29.333],"range":[415,506]},"axis":null},"x2":{"field":"j2"},"y":{"field":"p1","type":"quantitative","scale":{"domain":[73.34,83.59],"range":[367,265]},"axis":null},"y2":{"field":"p2"}}},
{"data":{"name":"iseg"},"transform":[{"filter":"datum.k == 'teal'"}],"mark":{"type":"rule","color":"#008080","strokeWidth":1},
 "encoding":{"x":{"field":"j1","type":"quantitative","scale":{"domain":[-1,29.333],"range":[415,506]},"axis":null},"x2":{"field":"j2"},"y":{"field":"p1","type":"quantitative","scale":{"domain":[73.34,83.59],"range":[367,265]},"axis":null},"y2":{"field":"p2"}}},
{"data":{"name":"ins"},"mark":{"type":"rule","color":"#000000","strokeWidth":1},
 "encoding":{"x":{"field":"j","type":"quantitative","scale":{"domain":[-1,29.333],"range":[415,506]},"axis":null},"y":{"field":"l","type":"quantitative","scale":{"domain":[73.34,83.59],"range":[367,265]},"axis":null},"y2":{"field":"h"}}},
{"data":{"name":"ins"},"mark":{"type":"bar","width":2.2,"stroke":"#000000","strokeWidth":0.8},
 "encoding":{"x":{"field":"j","type":"quantitative","scale":{"domain":[-1,29.333],"range":[415,506]},"axis":null},"y":{"field":"o","type":"quantitative","scale":{"domain":[73.34,83.59],"range":[367,265]},"axis":null},"y2":{"field":"c"},
  "fill":{"condition":{"test":"datum.c < datum.o","value":"#ff0000"},"value":"#ffffff"}}},
{"data":{"name":"ima"},"mark":{"type":"line","strokeWidth":1,"interpolate":"monotone"},
 "encoding":{"x":{"field":"j","type":"quantitative","scale":{"domain":[-1,29.333],"range":[415,506]},"axis":null},"y":{"field":"v","type":"quantitative","scale":{"domain":[73.34,83.59],"range":[367,265]},"axis":null},
  "color":{"field":"s","type":"nominal","scale":{"domain":["r","m","b","g"],"range":["#ff0000","#ff00ff","#0000ff","#00ff00"]},"legend":null}}},
{"data":{"name":"iseg"},"transform":[{"filter":"datum.k == 'ax'"}],"mark":{"type":"rule","color":"#000000","strokeWidth":1},
 "encoding":{"x":{"field":"j1","type":"quantitative","scale":{"domain":[-1,29.333],"range":[415,506]},"axis":null},"y":{"field":"p1","type":"quantitative","scale":{"domain":[73.34,83.59],"range":[367,265]},"axis":null},"y2":{"field":"p2"}}},
{"data":{"name":"ilab"},"mark":{"type":"rect"},
 "encoding":{"x":{"datum":29.67,"type":"quantitative","scale":{"domain":[-1,29.333],"range":[415,506]},"axis":null},"x2":{"datum":39},"y":{"field":"top","type":"quantitative","scale":{"domain":[73.34,83.59],"range":[367,265]},"axis":null},"y2":{"field":"bot"},
  "fill":{"field":"s","type":"nominal","scale":{"domain":["close","g","b","m","r","blue","gray","yellow","green"],"range":["#000000","#00ff00","#0000ff","#ff00ff","#ff0000","#2060ff","#c0c0c0","#ffff00","#00ff00"]},"legend":null}}},
{"data":{"name":"ilab"},"mark":{"type":"text","align":"left","baseline":"middle","fontSize":11,"color":"#ffffff"},
 "encoding":{"x":{"datum":30.0,"type":"quantitative","scale":{"domain":[-1,29.333],"range":[415,506]},"axis":null},"y":{"field":"yc","type":"quantitative","scale":{"domain":[73.34,83.59],"range":[367,265]},"axis":null},"text":{"field":"t"}}}
]}
],
"resolve":{"scale":{"x":"independent","y":"independent"},"axis":{"x":"independent","y":"independent"}}
},
{
"width":548,"height":56,
"layer":[
{"data":{"name":"w"},"mark":{"type":"bar","width":1.5},
 "encoding":{
  "x":{"field":"d","type":"temporal","scale":{"type":"utc","domain":[{"year":2000,"month":1,"date":9,"utc":true},{"year":2003,"month":7,"date":15,"utc":true}]},
   "axis":{"orient":"bottom","values":[{"year":2000,"month":4,"date":1,"utc":true},{"year":2000,"month":7,"date":1,"utc":true},{"year":2000,"month":10,"date":1,"utc":true},{"year":2001,"month":1,"date":1,"utc":true},{"year":2001,"month":4,"date":1,"utc":true},{"year":2001,"month":7,"date":1,"utc":true},{"year":2001,"month":10,"date":1,"utc":true},{"year":2002,"month":1,"date":1,"utc":true},{"year":2002,"month":4,"date":1,"utc":true},{"year":2002,"month":7,"date":1,"utc":true},{"year":2002,"month":10,"date":1,"utc":true},{"year":2003,"month":1,"date":1,"utc":true},{"year":2003,"month":4,"date":1,"utc":true}],
    "labelExpr":"utcmonth(datum.value) == 0 ? [utcFormat(datum.value, '%Y'), 'Jan'] : ['', utcFormat(datum.value, '%b')]",
    "labelAlign":"left","labelBaseline":"top","labelPadding":0,"labelLineHeight":11,"labelOverlap":false,"labelFlush":false,"labelBound":false,
    "ticks":false,"domain":true,"domainColor":"#000000","grid":true,"gridColor":"#8c8c8c","gridDash":[1,2],"title":null}},
  "y":{"field":"v","type":"quantitative","scale":{"domain":[0,72.9]},
   "axis":{"orient":"right","values":[0,50],"format":"d","ticks":false,"labelPadding":3,"domainColor":"#000000","grid":true,"gridColor":"#8c8c8c","gridDash":[1,2],"title":null}},
  "color":{"condition":{"test":"datum.c < datum.o","value":"#ff0000"},"value":"#00ff00"}}},
{"data":{"name":"vma"},"mark":{"type":"line","interpolate":"step-after","color":"#008080","strokeWidth":1.5},
 "encoding":{"x":{"field":"d","type":"temporal","scale":{"type":"utc","domain":[{"year":2000,"month":1,"date":9,"utc":true},{"year":2003,"month":7,"date":15,"utc":true}]}},
  "y":{"field":"v","type":"quantitative","scale":{"domain":[0,72.9]}}}},
{"data":{"values":[{"t":"Volume","d":"2000-01-11","v":63.5}]},"mark":{"type":"text","align":"left","baseline":"middle","fontSize":11,"color":"#000000"},
 "encoding":{"x":{"field":"d","type":"temporal","scale":{"type":"utc","domain":[{"year":2000,"month":1,"date":9,"utc":true},{"year":2003,"month":7,"date":15,"utc":true}]}},
  "y":{"field":"v","type":"quantitative","scale":{"domain":[0,72.9]}},"text":{"field":"t"}}},
{"data":{"values":[{"v":72.9}]},"mark":{"type":"rule","color":"#000000","strokeWidth":1},
 "encoding":{"y":{"field":"v","type":"quantitative","scale":{"domain":[0,72.9]}}}}
]
}
]
}
